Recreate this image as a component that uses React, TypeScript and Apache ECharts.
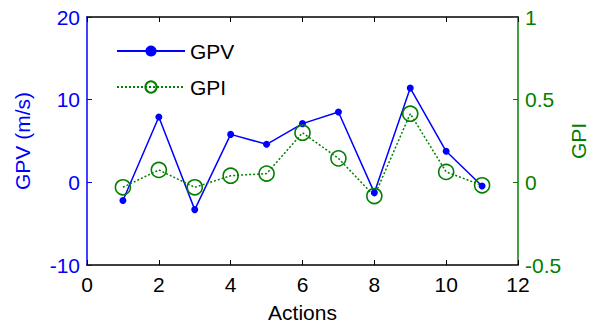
import React, { useEffect, useRef } from "react";
import * as echarts from "echarts";

const actions = [1, 2, 3, 4, 5, 6, 7, 8, 9, 10, 11];
const gpvValues = [-2.2, 7.9, -3.3, 5.8, 4.6, 7.1, 8.5, -1.25, 11.4, 3.75, -0.45];
const gpiValues = [-0.03, 0.075, -0.03, 0.04, 0.053, 0.3, 0.145, -0.083, 0.415, 0.063, -0.018];
const xTicks = { min: 0, max: 12, interval: 2 };
const gpvTicks = { min: -10, max: 20, interval: 10 };
const gpiTicks = { min: -0.5, max: 1, interval: 0.5 };

const BLUE = "#0000ff";
const GREEN = "#008000";
const FONT = "Liberation Sans, Arial, sans-serif";
const FS = 21;

export default function App() {
  const ref = useRef<HTMLDivElement>(null);
  useEffect(() => {
    if (!ref.current) return;
    const chart = echarts.init(ref.current, undefined, { renderer: "svg" });
    const gpvData = actions.map((a, i) => [a, gpvValues[i]]);
    const gpiData = actions.map((a, i) => [a, gpiValues[i]]);
    chart.setOption({
      animation: false,
      backgroundColor: "#ffffff",
      textStyle: { fontFamily: FONT },
      grid: {
        left: 87,
        right: 76,
        top: 17,
        bottom: 61,
        containLabel: false,
        outerBoundsMode: "none",
      },
      legend: {
        orient: "vertical",
        left: 111,
        top: 35,
        itemWidth: 68,
        itemHeight: 14,
        itemGap: 14,
        textStyle: { fontSize: FS, color: "#000", fontFamily: FONT, lineHeight: 22 },
        data: ["GPV", "GPI"],
      },
      xAxis: [
        {
          type: "value",
          position: "bottom",
          min: xTicks.min,
          max: xTicks.max,
          interval: xTicks.interval,
          name: "Actions",
          nameLocation: "middle",
          nameGap: 37,
          nameTextStyle: { fontSize: FS, color: "#000", fontFamily: FONT },
          axisLine: { show: true, onZero: false, lineStyle: { color: "#000", width: 1.5 } },
          axisTick: { show: true, inside: true, length: 5, lineStyle: { color: "#000" } },
          axisLabel: { fontSize: FS, color: "#000", margin: 9, fontFamily: FONT },
          splitLine: { show: false },
        },
        {
          type: "value",
          position: "top",
          min: xTicks.min,
          max: xTicks.max,
          interval: xTicks.interval,
          axisLine: { show: true, onZero: false, lineStyle: { color: "#000", width: 1.5 } },
          axisTick: { show: true, inside: true, length: 5, lineStyle: { color: "#000" } },
          axisLabel: { show: false },
          splitLine: { show: false },
        },
      ],
      yAxis: [
        {
          type: "value",
          position: "left",
          min: gpvTicks.min,
          max: gpvTicks.max,
          interval: gpvTicks.interval,
          name: "GPV (m/s)",
          nameLocation: "middle",
          nameGap: 54,
          nameRotate: 90,
          nameMoveOverlap: false,
          nameTextStyle: { fontSize: FS, color: BLUE, fontFamily: FONT },
          axisLine: { show: true, onZero: false, lineStyle: { color: BLUE, width: 1.5 } },
          axisTick: { show: true, inside: true, length: 5, lineStyle: { color: BLUE } },
          axisLabel: { fontSize: FS, color: BLUE, margin: 7, fontFamily: FONT },
          splitLine: { show: false },
        },
        {
          type: "value",
          position: "right",
          min: gpiTicks.min,
          max: gpiTicks.max,
          interval: gpiTicks.interval,
          name: "GPI",
          nameLocation: "middle",
          nameGap: 50,
          nameRotate: 90,
          nameMoveOverlap: false,
          nameTextStyle: { fontSize: FS, color: GREEN, fontFamily: FONT },
          axisLine: { show: true, onZero: false, lineStyle: { color: GREEN, width: 1.5 } },
          axisTick: { show: true, inside: true, length: 5, lineStyle: { color: GREEN } },
          axisLabel: { fontSize: FS, color: GREEN, margin: 7, fontFamily: FONT },
          splitLine: { show: false },
        },
      ],
      series: [
        {
          name: "GPV",
          type: "line",
          xAxisIndex: 0,
          yAxisIndex: 0,
          data: gpvData,
          symbol: "circle",
          symbolSize: 7,
          lineStyle: { color: BLUE, width: 1.5 },
          itemStyle: { color: BLUE },
        },
        {
          name: "GPI",
          type: "line",
          xAxisIndex: 0,
          yAxisIndex: 1,
          data: gpiData,
          symbol: "circle",
          symbolSize: 15,
          lineStyle: { color: GREEN, width: 1.5, type: [2, 2] },
          itemStyle: { color: "rgba(0,0,0,0)", borderColor: GREEN, borderWidth: 1.6 },
        },
      ],
    });
    return () => chart.dispose();
  }, []);
  return (
    <div
      ref={ref}
      style={{ position: "fixed", left: 0, top: 0, width: 594, height: 326 }}
    />
  );
}
